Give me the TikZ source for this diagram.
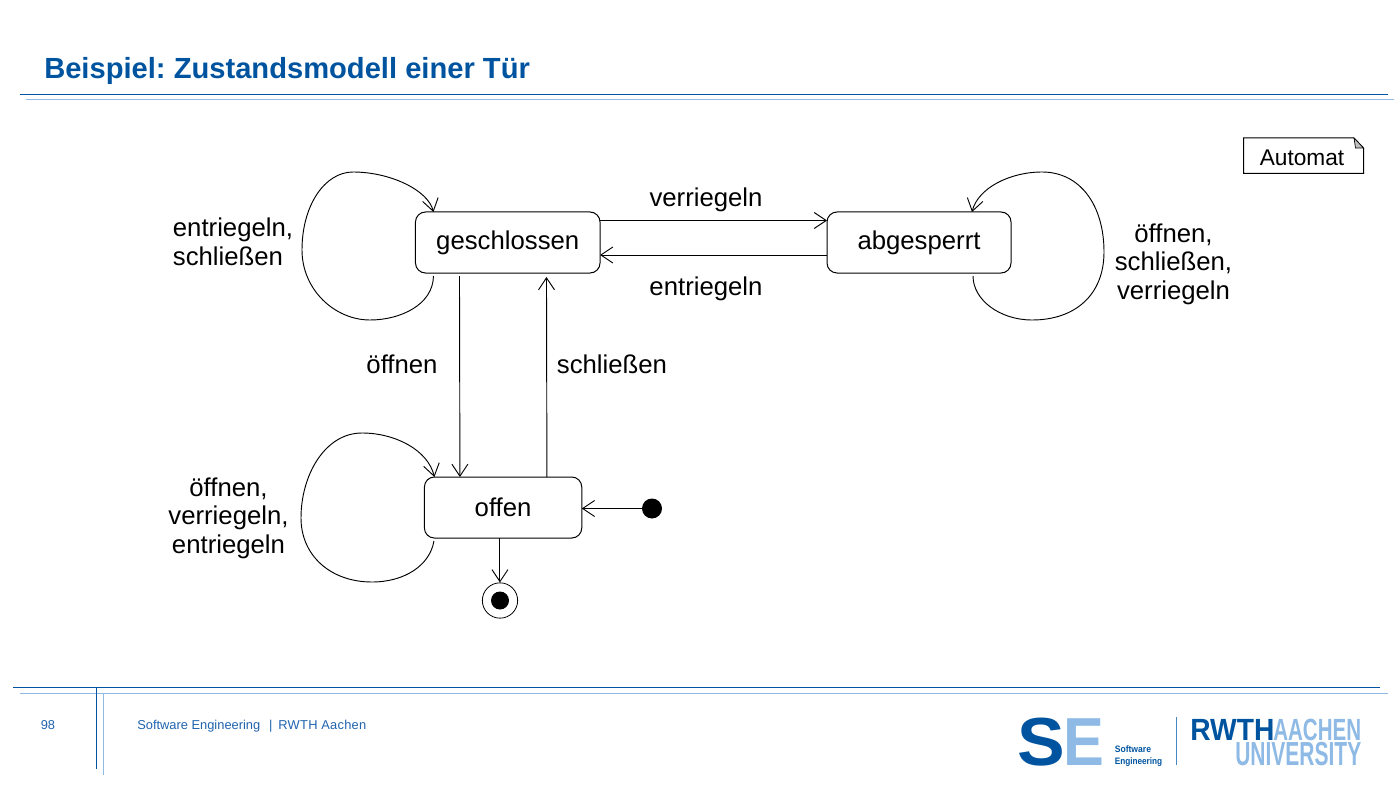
\documentclass[tikz,border=0pt]{standalone}
\usepackage{fontspec}
\setmainfont{Liberation Sans}
\usepackage{xcolor}
\usetikzlibrary{arrows.meta, positioning, calc}
\definecolor{rwthblue}{HTML}{00549F}
\definecolor{rwthlight}{HTML}{8EBAE5}
\definecolor{footblue}{HTML}{1F63AE}
\frenchspacing

\begin{document}
\begin{tikzpicture}[
                x=0.75pt, y=-0.75pt,
                statebox/.style={draw, rounded corners=7.5pt, line width=0.75pt, minimum height=45.75pt, inner sep=0pt, outer sep=0pt, font=\bodyfont},
                edgelabel/.style={inner sep=0pt, align=center, font=\bodyfont},
                arrowline/.style={-{Straight Barb[length=9pt, width=12pt]}, line width=0.7pt},
                ruledark/.style={rwthblue, line width=0.75pt},
                rulelight/.style={rwthlight, line width=0.75pt},
                logotext/.style={inner sep=0pt, anchor=base west}
            ]
                \newcommand{\bodyfont}{\fontsize{19.3}{21.4}\selectfont}
                \useasboundingbox (0,0) rectangle (1400,788);

                % header and footer
                \node[anchor=base west, inner sep=0pt, text=rwthblue, font=\fontsize{21.85}{25}\selectfont\bfseries] (title) at (44,78.5) {Beispiel: Zustandsmodell einer Tür};
                \draw[ruledark] (20,95) -- (1388,95);
                \draw[rulelight] (26,99.5) -- (1394,99.5);
                \draw[ruledark] (13,687.5) -- (1380,687.5);
                \draw[rulelight] (20,693.5) -- (1388,693.5);
                \draw[ruledark] (96.5,687.5) -- (96.5,769);
                \draw[rulelight] (103.5,693.5) -- (103.5,775);
                \node[anchor=base, inner sep=0pt, text=footblue, font=\fontsize{9.65}{12}\selectfont] (page) at (48,729) {98};
                \node[anchor=base west, inner sep=0pt, text=footblue, font=\fontsize{9.65}{12}\selectfont] (foot) at (137,729) {Software Engineering\hspace{6.6pt}|\hspace{4.5pt}\addfontfeatures{LetterSpace=2}RWTH Aachen};

                % logos
                \node[logotext, text=rwthblue, font=\fontsize{51}{51}\selectfont\bfseries] (logos) at (1017,765) {\scalebox{1.05}[1]{S}};
                \node[logotext, text=rwthlight, font=\fontsize{51}{51}\selectfont\bfseries] (logoe) at (1063,765) {\scalebox{0.9}[1]{E}};
                \node[logotext, text=rwthblue, font=\fontsize{7}{9}\selectfont\bfseries] (logosw) at (1114.5,752.5) {\scalebox{0.92}[1]{Software}};
                \node[logotext, text=rwthblue, font=\fontsize{7}{9}\selectfont\bfseries] (logoeng) at (1114.5,764) {\scalebox{0.88}[1]{Engineering}};
                \draw[rwthlight!50!rwthblue, line width=0.75pt] (1176,717) -- (1176,765);
                \node[logotext, text=rwthblue, font=\fontsize{23}{25}\selectfont\bfseries] (logorwth) at (1190,740) {\scalebox{0.92}[1]{RWTH}};
                \node[logotext, text=rwthlight, font=\fontsize{23}{25}\selectfont\bfseries] (logoaachen) at (1273,740) {\scalebox{0.67}[1]{AACHEN}};
                \node[logotext, text=rwthlight, font=\fontsize{25}{27}\selectfont\bfseries] (logouni) at (1235,765) {\scalebox{0.63}[1]{UNIVERSITY}};

                % note
                \coordinate (notefold) at (1363.5,148);
                \draw[line width=0.75pt] (1243.5,138) -- (1354,138) -- (notefold) -- (1363.5,173.5) -- (1243.5,173.5) -- cycle;
                \draw[fill=black!25, line width=0.5pt] (1354,138) -- (1355.5,148) -- (notefold) -- cycle;
                \node[edgelabel, font=\fontsize{17}{20}\selectfont] (note) at (1302,157.5) {Automat};

                % states
                \node[statebox, minimum width=138.4pt] (geschlossen) at (507.75,242.5) {geschlossen};
                \node[statebox, minimum width=138pt, right=170.25pt of geschlossen] (abgesperrt) {abgesperrt};
                \node[statebox, minimum width=118pt, below=153pt of geschlossen, xshift=-3.5pt] (offen) {offen};
                \node[circle, fill=black, minimum size=15pt, inner sep=0pt] (start) at (652,508.5) {};
                \node[circle, draw, line width=0.6pt, minimum size=26.5pt, inner sep=0pt] (final) at (500,600.5) {};
                \node[circle, fill=black, minimum size=13.5pt, inner sep=0pt] (finaldot) at (final.center) {};

                % transitions
                \draw[arrowline] ($(geschlossen.north east)+(0,8.5)$) -- ($(abgesperrt.north west)+(0,8.5)$);
                \draw[arrowline] ($(abgesperrt.south west)+(0,-18)$) -- ($(geschlossen.south east)+(0,-18)$);
                \draw[arrowline] ($(geschlossen.south west)+(44,3)$) -- ($(offen.north west)+(35.5,0)$);
                \draw[arrowline] ($(offen.north west)+(122.5,0)$) -- ($(geschlossen.south west)+(131,4)$);
                \draw[arrowline] (start) -- (offen.east |- start);
                \draw[arrowline] ($(offen.south west)+(75.5,0)$) -- (final.north -| {$(offen.south west)+(75.5,0)$});

                % loops
                \draw[arrowline] ($(geschlossen.south west)+(18,3)$) .. controls (433,305) and (400,320) .. (370,320) .. controls (335,320) and (302,290) .. (302,250) .. controls (302,205) and (325,172) .. (353,172) .. controls (390,172) and (428,190) .. ($(geschlossen.north west)+(18,0)$);
                \draw[arrowline] ($(abgesperrt.south west)+(146,3)$) .. controls (973,300) and (1000,320) .. (1032,320) .. controls (1075,320) and (1104,295) .. (1104,252) .. controls (1104,205) and (1080,172) .. (1042,172) .. controls (1010,172) and (978,188) .. ($(abgesperrt.north west)+(145,0)$);
                \draw[arrowline] ($(offen.south west)+(9.5,3)$) .. controls (430,565) and (405,582) .. (372,582) .. controls (330,582) and (301,555) .. (301,518) .. controls (301,475) and (325,433) .. (362,433) .. controls (395,433) and (428,450) .. ($(offen.north west)+(10,0)$);

                % labels
                \node[edgelabel] (lblverriegeln) at (706,199.5) {verriegeln};
                \node[edgelabel] (lblentriegeln) at (706,288.5) {entriegeln};
                \node[edgelabel] (lbloeffnen) at (402,364) {öffnen};
                \node[edgelabel] (lblschliessen) at (612,364) {schließen};
                \node[edgelabel, align=left] (lblgeschlossen) at (233,242) {entriegeln,\\schließen};
                \node[edgelabel] (lblabgesperrt) at (1173.5,264) {öffnen,\\schließen,\\verriegeln};
                \node[edgelabel] (lbloffen) at (228.5,518) {öffnen,\\verriegeln,\\entriegeln};
            \end{tikzpicture}
\end{document}
